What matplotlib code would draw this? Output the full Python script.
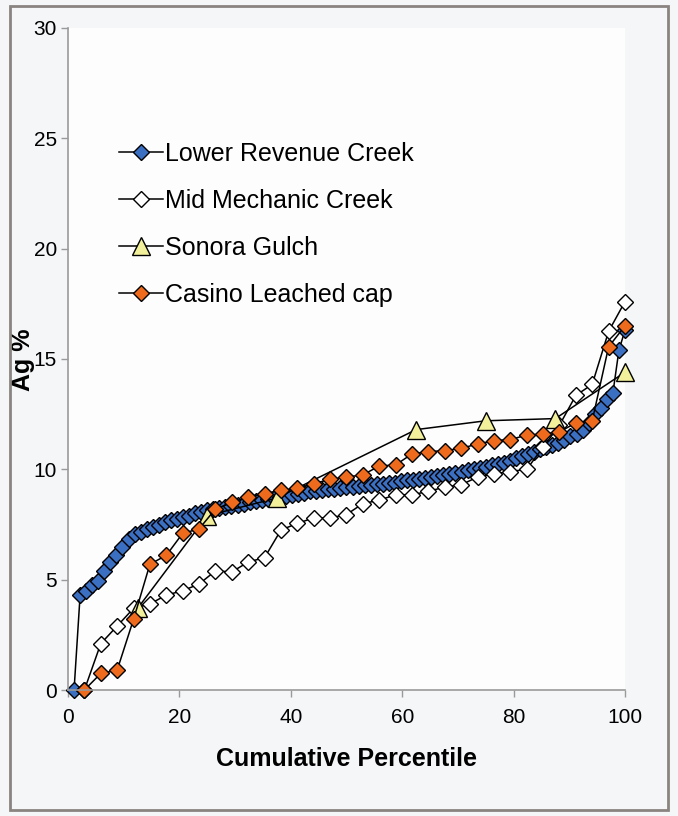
import numpy as np
import matplotlib
matplotlib.use("Agg")
import matplotlib.pyplot as plt
from matplotlib.patches import Rectangle

plt.rcParams["font.family"] = ["Liberation Sans", "DejaVu Sans"]

# Ag % values, sorted, for each area
lower_revenue = [0.0, 4.3, 4.5, 4.75, 4.95, 5.4, 5.8, 6.1, 6.5, 6.85,
                 7.05, 7.15, 7.3, 7.4, 7.5, 7.6, 7.7, 7.75, 7.85, 7.9,
                 8.0, 8.05, 8.15, 8.2, 8.25, 8.3, 8.35, 8.4, 8.45, 8.5,
                 8.55, 8.6, 8.65, 8.7, 8.75, 8.8, 8.85, 8.9, 8.95, 9.0,
                 9.0, 9.05, 9.1, 9.1, 9.15, 9.2, 9.2, 9.25, 9.3, 9.3,
                 9.35, 9.35, 9.4, 9.4, 9.45, 9.5, 9.5, 9.55, 9.6, 9.65,
                 9.7, 9.75, 9.8, 9.85, 9.9, 9.95, 10.0, 10.05, 10.1, 10.2,
                 10.25, 10.3, 10.4, 10.5, 10.6, 10.7, 10.8, 10.9, 11.0, 11.1,
                 11.2, 11.35, 11.5, 11.6, 11.8, 12.1, 12.5, 12.8, 13.2, 13.45,
                 15.4, 16.3]
mid_mechanic = [0.0, 2.1, 2.9, 3.7, 3.9, 4.3, 4.5, 4.8, 5.4, 5.35,
                5.8, 6.0, 7.25, 7.55, 7.8, 7.8, 7.95, 8.45, 8.6, 8.85,
                8.85, 9.0, 9.2, 9.3, 9.65, 9.8, 9.9, 10.0, 11.0, 12.0,
                13.35, 13.85, 16.25, 17.6]
sonora_pct = [12.5, 25, 37.5, 62.5, 75, 87.5, 100]
sonora = [3.7, 7.9, 8.7, 11.8, 12.2, 12.3, 14.4]
casino = [0.0, 0.75, 0.9, 3.2, 5.7, 6.1, 7.1, 7.3, 8.2, 8.5,
          8.75, 8.9, 9.05, 9.15, 9.35, 9.55, 9.65, 9.75, 10.15, 10.2,
          10.7, 10.8, 10.85, 10.95, 11.15, 11.3, 11.35, 11.55, 11.6, 11.7,
          12.1, 12.2, 15.55, 16.5]


def cum_pct(vals):
    n = len(vals)
    return np.arange(1, n + 1) / n * 100


fig = plt.figure(figsize=(6.78, 8.16), dpi=100, facecolor="#f4f6f8")
fig.patches.append(Rectangle((0.015, 0.007), 0.97, 0.986, transform=fig.transFigure,
                             fill=False, edgecolor="#8a8480", linewidth=2))
ax = fig.add_axes([0.1003, 0.1544, 0.8215, 0.8113])
ax.set_facecolor("#fdfdfd")

line_kw = dict(color="black", linewidth=1.1, markeredgecolor="black", markeredgewidth=1.0)
ax.plot(cum_pct(lower_revenue), lower_revenue, marker="D", markersize=8.5,
        markerfacecolor="#3b6fc2", label="Lower Revenue Creek", **line_kw)
ax.plot(cum_pct(mid_mechanic), mid_mechanic, marker="D", markersize=8.5,
        markerfacecolor="white", label="Mid Mechanic Creek", **line_kw)
ax.plot(sonora_pct, sonora, marker="^", markersize=13,
        markerfacecolor="#f3f09c", label="Sonora Gulch", **line_kw)
ax.plot(cum_pct(casino), casino, marker="D", markersize=8.5,
        markerfacecolor="#ee6a1c", label="Casino Leached cap", **line_kw)

ax.set_xlim(0, 100)
ax.set_ylim(0, 30)
ax.set_xticks([0, 20, 40, 60, 80, 100])
ax.set_yticks([0, 5, 10, 15, 20, 25, 30])
ax.tick_params(labelsize=15, color="#9a9a9a", length=5, width=1, pad=3)
ax.tick_params(axis="x", pad=8)
for side in ["top", "right"]:
    ax.spines[side].set_visible(False)
for side in ["left", "bottom"]:
    ax.spines[side].set_color("#9a9a9a")
    ax.spines[side].set_linewidth(1.2)
for ln in ax.lines:
    ln.set_clip_on(False)

ax.set_xlabel("Cumulative Percentile", fontsize=18, fontweight="bold")
ax.xaxis.set_label_coords(0.5, -0.086)
ax.set_ylabel("Ag %", fontsize=18, fontweight="bold")
ax.yaxis.set_label_coords(-0.06, 0.4985)

leg = ax.legend(loc="upper left", bbox_to_anchor=(0.052, 0.862), frameon=False,
                fontsize=18, handlelength=1.76, handletextpad=0.05, labelspacing=0.92)

fig.savefig("out.png", dpi=100, facecolor=fig.get_facecolor())
